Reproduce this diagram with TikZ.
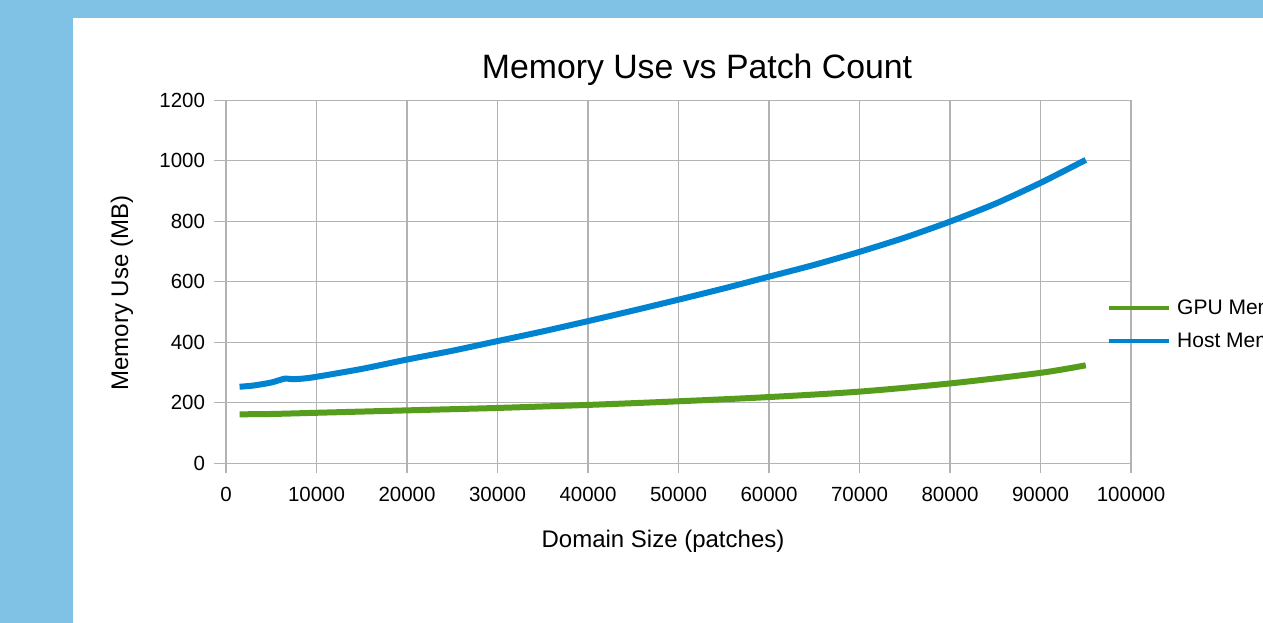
\documentclass[tikz,border=0pt]{standalone}
\usepackage{fontspec}
\setmainfont{Liberation Sans}
\definecolor{pagebg}{HTML}{80C1E6}
\definecolor{gridgray}{HTML}{B3B3B3}
\definecolor{gpugreen}{HTML}{579D1C}
\definecolor{hostblue}{HTML}{0084D1}
\begin{document}
\begin{tikzpicture}[x=1pt,y=-1pt,
  gridline/.style={draw=gridgray,line width=1.1pt},
  series/.style={line width=6pt,line join=round},
  ticklabel/.style={font=\fontsize{20.5}{22}\selectfont,inner sep=0pt},
  axistitle/.style={font=\fontsize{24}{26}\selectfont,inner sep=0pt},
  legendtext/.style={font=\fontsize{21}{24}\selectfont,inner sep=0pt,anchor=west}]
% page background and white panel
\fill[pagebg] (0,0) rectangle (1263,623);
\useasboundingbox (0,0) rectangle (1263,623);
\fill[white] (73,18) rectangle (1263,623);

% title
\node[font=\fontsize{33.8}{36}\selectfont,inner sep=0pt] (title) at (697,70) {Memory Use vs Patch Count};

% plot area: x in thousands of patches, y in MB
\begin{scope}[x=9.05pt,y=0.3025pt,shift={(226pt,-463.3pt)}]
  % grid and ticks
  \foreach \v in {0,200,...,1200} {
    \draw[gridline] (-1.33,\v) -- (100,\v);
  }
  \foreach \u in {0,10,...,100} {
    \draw[gridline] (\u,-33) -- (\u,1200);
  }
  % y tick labels
  \foreach \v in {0,200,...,1200} {
    \node[ticklabel,anchor=east] (ylab\v) at (-2.3,\v) {\v};
  }
  % x tick labels
  \foreach \u/\lab in {0/0,10/10000,20/20000,30/30000,40/40000,50/50000,
                       60/60000,70/70000,80/80000,90/90000,100/100000} {
    \node[ticklabel,anchor=north] (xlab\u) at (\u,-78) {\lab};
  }
  % GPU memory series
  \draw[series,draw=gpugreen] plot[smooth,tension=0.5] coordinates {
    (1.5,162) (5,163) (10,167) (20,175) (30,183)
    (40,193) (50,205) (60,219) (70,237) (80,264)
    (90,299) (95,324)};
  % host memory series
  \draw[series,draw=hostblue] plot[smooth,tension=0.4] coordinates {
    (1.5,253) (3,257) (5,267) (6.5,280) (7.3,278)
    (8.5,280) (10,286) (15,312) (20,343) (25,372)
    (30,404) (35,436) (40,470) (45,505) (50,541)
    (55,578) (60,617) (65,656) (70,699) (75,746)
    (80,799) (85,858) (90,927) (95,1003)};
\end{scope}

% axis titles
\node[axistitle] (xtitle) at (663,541) {Domain Size (patches)};
\node[axistitle,rotate=90] (ytitle) at (122,293) {Memory Use (MB)};

% legend
\coordinate (gpuA) at (1109,308);
\coordinate (gpuB) at (1169,308);
\coordinate (hostA) at (1109,341);
\coordinate (hostB) at (1169,341);
\draw[line width=4pt,draw=gpugreen] (gpuA) -- (gpuB);
\draw[line width=4pt,draw=hostblue] (hostA) -- (hostB);
\node[legendtext] (gputext) at (1177,309) {GPU Memory};
\node[legendtext] (hosttext) at (1177,342) {Host Memory};
\end{tikzpicture}
\end{document}
